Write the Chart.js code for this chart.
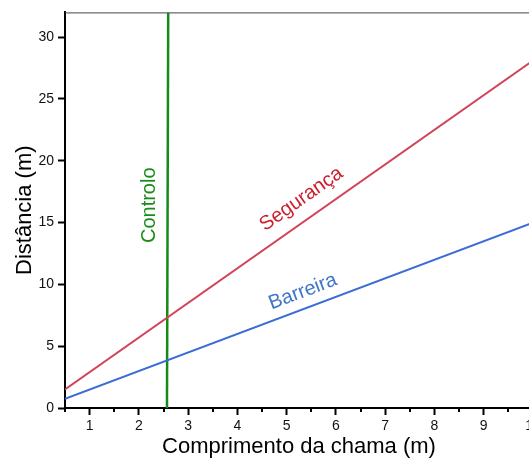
<!DOCTYPE html>
<html>
<head>
<meta charset="utf-8">
<script src="https://cdn.jsdelivr.net/npm/chart.js@4/dist/chart.umd.min.js"></script>
<style>
  html, body { margin: 0; padding: 0; overflow: hidden; background: #fff; }
  #wrap { width: 553px; height: 459px; }
</style>
</head>
<body>
<div id="wrap"><canvas id="myChart"></canvas></div>
<script>
const ctx = document.getElementById("myChart");

// Comprimento da chama (m) -> Distância (m)
const segurancaX = [0.5, 10];
const segurancaY = [1.5, 28.1];
const barreiraX = [0.5, 10];
const barreiraY = [0.75, 15];
const controloX = [2.57, 2.595];
const controloY = [0, 32];

const seriesNames = ["Segurança", "Barreira", "Controlo"];
const lineColors = ["#d2435a", "#3b6bd6", "#168a16"];
const textColors = ["#cc1f2e", "#3f76c8", "#1a8c1a"];

const font = "'Liberation Sans', Arial, Helvetica, sans-serif";

const toPoints = (xs, ys) => xs.map((x, i) => ({ x: x, y: ys[i] }));

// where each series name is written (data coords)
const labelAt = [
  { x: 5.3, y: 16.9 },
  { x: 5.33, y: 9.4 },
  { x: 2.22, y: 16.4 },
];

const extras = {
  id: "extras",
  afterDraw(chart) {
    const c = chart.ctx;
    const a = chart.chartArea;
    const xs = chart.scales.x;
    const ys = chart.scales.y;
    c.save();
    // top frame line
    c.strokeStyle = "#444";
    c.lineWidth = 1;
    c.beginPath();
    c.moveTo(a.left, a.top + 0.5);
    c.lineTo(a.right, a.top + 0.5);
    c.stroke();
    // minor ticks on x
    c.strokeStyle = "#000";
    c.lineWidth = 2;
    xs.ticks.forEach(t => {
      if (Number.isInteger(t.value)) return;
      const px = Math.round(xs.getPixelForValue(t.value));
      c.beginPath();
      c.moveTo(px, a.bottom);
      c.lineTo(px, a.bottom + 4);
      c.stroke();
    });
    // series labels along their lines
    chart.data.datasets.forEach((ds, i) => {
      const p0 = ds.data[0], p1 = ds.data[ds.data.length - 1];
      const dx = xs.getPixelForValue(p1.x) - xs.getPixelForValue(p0.x);
      const dy = ys.getPixelForValue(p1.y) - ys.getPixelForValue(p0.y);
      let ang = Math.atan2(dy, dx);
      if (Math.abs(dx) < 5) ang = -Math.PI / 2;
      c.save();
      c.translate(xs.getPixelForValue(labelAt[i].x), ys.getPixelForValue(labelAt[i].y));
      c.rotate(ang);
      c.fillStyle = textColors[i];
      c.font = "20px " + font;
      c.textAlign = "center";
      c.textBaseline = "middle";
      c.fillText(ds.label, 0, 0);
      c.restore();
    });
    c.restore();
  },
};

const config = {
  type: "scatter",
  data: {
    datasets: [
      { label: seriesNames[0], data: toPoints(segurancaX, segurancaY) },
      { label: seriesNames[1], data: toPoints(barreiraX, barreiraY) },
      { label: seriesNames[2], data: toPoints(controloX, controloY), borderWidth: 2.5 },
    ].map((d, i) => Object.assign({
      showLine: true,
      borderColor: lineColors[i],
      borderWidth: 2,
      pointRadius: 0,
      pointHoverRadius: 0,
    }, d)),
  },
  options: {
    responsive: true,
    maintainAspectRatio: false,
    animation: false,
    layout: { padding: { top: 12, right: 20, left: 0, bottom: 0 } },
    plugins: {
      legend: { display: false },
      tooltip: { enabled: false },
    },
    scales: {
      x: {
        type: "linear",
        min: 0.5,
        max: 10,
        afterFit: s => { s.height = 51; },
        grid: {
          drawOnChartArea: false,
          tickLength: 7,
          tickWidth: 2,
          tickColor: c => Number.isInteger(c.tick.value) ? "#000" : "rgba(0,0,0,0)",
        },
        border: { color: "#000", width: 2 },
        ticks: {
          stepSize: 0.5,
          includeBounds: false,
          maxRotation: 0,
          autoSkip: false,
          padding: 3,
          color: "#111",
          font: { family: font, size: 14 },
          callback: v => Number.isInteger(v) ? String(v) : "",
        },
        title: {
          display: true,
          text: "Comprimento da chama (m)",
          color: "#000",
          font: { family: font, size: 22, lineHeight: 1 },
          padding: { top: 0, bottom: 1 },
        },
      },
      y: {
        type: "linear",
        min: 0,
        max: 32,
        afterFit: s => { s.width = 65; },
        grid: {
          drawOnChartArea: false,
          tickLength: 7,
          tickWidth: 2,
          tickColor: "#000",
        },
        border: { color: "#000", width: 2 },
        ticks: {
          stepSize: 5,
          includeBounds: false,
          padding: 4,
          color: "#111",
          font: { family: font, size: 14 },
        },
        title: {
          display: true,
          text: "Distância (m)",
          color: "#000",
          font: { family: font, size: 22, lineHeight: 1 },
          padding: { top: 14, bottom: 0 },
        },
      },
    },
  },
  plugins: [extras],
};
myChart = new Chart(ctx, config);
</script>
</body>
</html>
